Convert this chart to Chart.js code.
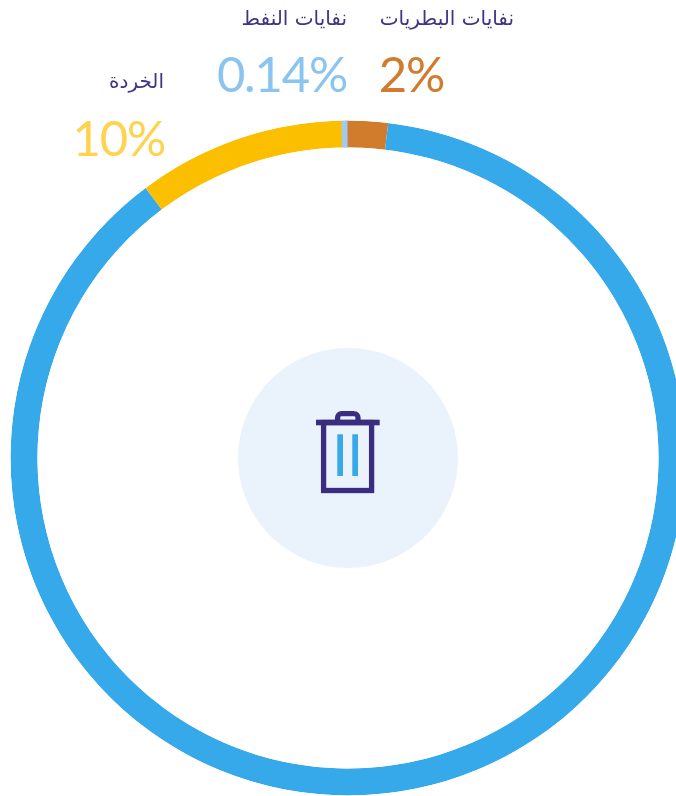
<!DOCTYPE html>
<html lang="ar"><head><meta charset="utf-8">
<style>
html,body{margin:0;padding:0;background:#fff;width:676px;height:796px;overflow:hidden}
#wrap{position:relative;width:676px;height:796px;overflow:hidden}
#c{position:absolute;left:0;top:0}
.t{position:absolute;white-space:nowrap;line-height:1;text-align:right}
.l{font-family:"DejaVu Sans","Noto Sans",sans-serif;font-size:20px;color:#3F3584;direction:rtl}
.v{font-family:Lato,sans-serif;font-size:49px;letter-spacing:-1.2px;direction:ltr}
</style></head><body>
<div id="wrap"><canvas id="c" width="700" height="800" style="width:700px;height:800px"></canvas></div>
<script src="https://cdn.jsdelivr.net/npm/chart.js@4/dist/chart.umd.min.js"></script>
<script>
const categories=['نفايات البطريات','أخرى','الخردة','نفايات النفط'];
const values=[2,87.86,10,0.14];
const valueLabels=['2%','','10%','0.14%'];
const colors=['#D17B2D','#36A9EA','#FCBF00','#A0CBEE'];
const labelColors=['#D07B2E','','#FFD34D','#8CC4F0'];

const labelTop=[8,null,71,8];
const valueTop=[49,null,113,49];
const wrap=document.getElementById('wrap');
categories.forEach((name,i)=>{
  if(!valueLabels[i])return;
  const a=document.createElement('div');a.className='t l';a.textContent=name;
  a.style.right=(676-[514,0,164,347][i])+'px';a.style.top=labelTop[i]+'px';wrap.appendChild(a);
  const b=document.createElement('div');b.className='t v';b.textContent=valueLabels[i];b.style.color=labelColors[i];
  b.style.right=(676-[444,0,165,347][i])+'px';b.style.top=valueTop[i]+'px';wrap.appendChild(b);
});

const centerIcon={id:'centerIcon',beforeDatasetsDraw(ch){
  const m=ch.getDatasetMeta(0).data[0];const x=m.x,y=m.y,g=ch.ctx;
  g.save();
  g.fillStyle='#EAF3FB';g.beginPath();g.arc(x,y,110,0,Math.PI*2);g.fill();
  g.fillStyle='#3A2C7E';g.strokeStyle='#3A2C7E';
  g.fillRect(x-32,y-38.3,63.7,5.6);
  g.lineWidth=5.3;g.strokeRect(x-24.4,y-35.5,48,68);
  g.beginPath();g.moveTo(x-10.4,y-36);g.lineTo(x-10.4,y-41);g.arcTo(x-10.4,y-44.4,x-6,y-44.4,4);g.lineTo(x+6.5,y-44.4);g.arcTo(x+10,y-44.4,x+10,y-41,4);g.lineTo(x+10,y-36);g.stroke();
  g.fillStyle='#36A9EA';
  g.fillRect(x-10.7,y-23.7,5.7,41.7);g.fillRect(x+4.3,y-23.7,5.7,41.7);
  g.restore();
  // keep the widened thin slice inside the ring
  g.save();
  g.beginPath();g.arc(x,y,m.outerRadius,0,Math.PI*2);g.arc(x,y,m.innerRadius,0,Math.PI*2,true);g.clip();
},afterDatasetsDraw(ch){ch.ctx.restore();}};

new Chart(document.getElementById('c'),{
  type:'doughnut',
  data:{labels:categories,datasets:[{data:values,backgroundColor:colors,borderColor:colors,borderWidth:[0,0,0,3],borderJoinStyle:'miter'}]},
  options:{responsive:false,animation:false,cutout:'92%',rotation:-0.35,
    layout:{padding:{left:9,right:13,top:119,bottom:3}},
    plugins:{legend:{display:false},tooltip:{enabled:false}}},
  plugins:[centerIcon]
});
</script></body></html>
